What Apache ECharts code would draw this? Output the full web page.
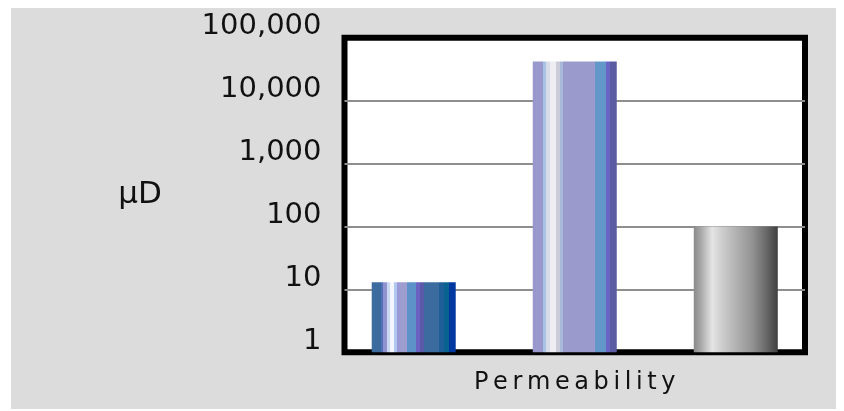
<!DOCTYPE html>
<html>
<head>
<meta charset="utf-8">
<script src="https://cdn.jsdelivr.net/npm/echarts@6/dist/echarts.min.js"></script>
<style>
  html, body { margin: 0; padding: 0; background: #ffffff; }
  #chart { position: absolute; left: 11px; top: 8px; width: 825px; height: 401px; background: #dcdcdc; }
</style>
</head>
<body>
<div id="chart"></div>
<script>
// Values (microdarcy) per sample, on one category
const categories = ['Permeability'];
const seriesNames = ['Sample A', 'Sample B', 'Sample C'];
const seriesValues = [13, 42000, 100];
const axisMin = 1;
const axisMax = 100000;
const axisUnit = 'μD';

// Vertical stripe palettes for each bar: [start, end, colour]
const stripesA = [
  [0.000, 0.107, '#3b6b9f'], [0.107, 0.139, '#5270b8'], [0.139, 0.187, '#9192d0'],
  [0.187, 0.218, '#c9d9f2'], [0.218, 0.266, '#f4f5ff'], [0.266, 0.298, '#b0c8ee'],
  [0.298, 0.337, '#9a9ad8'], [0.337, 0.425, '#9d9dd0'], [0.425, 0.524, '#5d92c9'],
  [0.524, 0.575, '#6a61c0'], [0.575, 0.623, '#5a5aa8'], [0.623, 0.802, '#3b6b9f'],
  [0.802, 0.861, '#1f5f99'], [0.861, 0.921, '#086391'], [0.921, 1.000, '#0038a0']
];
const stripesB = [
  [0.000, 0.125, '#9898cc'], [0.125, 0.163, '#a9c4e2'], [0.163, 0.202, '#d8dce8'],
  [0.202, 0.280, '#eeeef2'], [0.280, 0.319, '#cacdd9'], [0.319, 0.358, '#a9b9d9'],
  [0.358, 0.747, '#9a9acc'], [0.747, 0.875, '#6497c9'], [0.875, 0.922, '#6a65c5'],
  [0.922, 1.000, '#5b5ba2']
];
const shadeC = [
  [0.00, '#8a8a8a'], [0.08, '#a6a6a6'], [0.22, '#e4e4e4'], [0.30, '#d4d4d4'],
  [0.50, '#b2b2b2'], [0.70, '#929292'], [0.85, '#6c6c6c'], [1.00, '#3f3f3f']
];

function stripeGradient(stripes) {
  const stops = [];
  stripes.forEach(([a, b, c]) => {
    stops.push({ offset: a, color: c });
    stops.push({ offset: b, color: c });
  });
  return new echarts.graphic.LinearGradient(0, 0, 1, 0, stops);
}
function smoothGradient(shade) {
  return new echarts.graphic.LinearGradient(0, 0, 1, 0,
    shade.map(([o, c]) => ({ offset: o, color: c })));
}

const fills = [stripeGradient(stripesA), stripeGradient(stripesB), smoothGradient(shadeC)];
const FONT = 'DejaVu Sans';

const chart = echarts.init(document.getElementById('chart'));
chart.setOption({
  animation: false,
  backgroundColor: '#dcdcdc',
  grid: {
    left: 333.5, right: 31, top: 29.8, bottom: 56.8,
    show: true, backgroundColor: '#ffffff', borderColor: '#000000', borderWidth: 6
  },
  xAxis: {
    type: 'category',
    data: categories,
    axisLine: { show: false },
    axisTick: { show: false },
    axisLabel: {
      margin: 19,
      formatter: v => v.split('').map(ch => '{s|' + ch + '}').join(''),
      rich: { s: { fontFamily: FONT, fontSize: 24, color: '#111111', padding: [0, 2.3, 0, 2.3] } }
    }
  },
  yAxis: {
    type: 'log',
    logBase: 10,
    min: axisMin,
    max: axisMax,
    name: axisUnit,
    nameLocation: 'middle',
    nameRotate: 0,
    nameGap: 204.5,
    nameTextStyle: { fontFamily: FONT, fontSize: 31, color: '#111111', align: 'center', verticalAlign: 'middle' },
    axisLine: { show: false },
    axisTick: { show: false },
    axisLabel: {
      margin: 23,
      fontFamily: FONT, fontSize: 29, color: '#111111',
      verticalAlign: 'bottom', lineHeight: 22,
      formatter: v => Number(v).toLocaleString('en-US')
    },
    splitLine: {
      show: true, showMinLine: false, showMaxLine: false,
      lineStyle: { color: '#8e8e8e', width: 2 }
    }
  },
  series: seriesNames.map((name, i) => ({
    name,
    type: 'bar',
    barWidth: 84,
    barGap: '91.7%',
    data: [seriesValues[i]],
    itemStyle: { color: fills[i] }
  }))
});
</script>
</body>
</html>
